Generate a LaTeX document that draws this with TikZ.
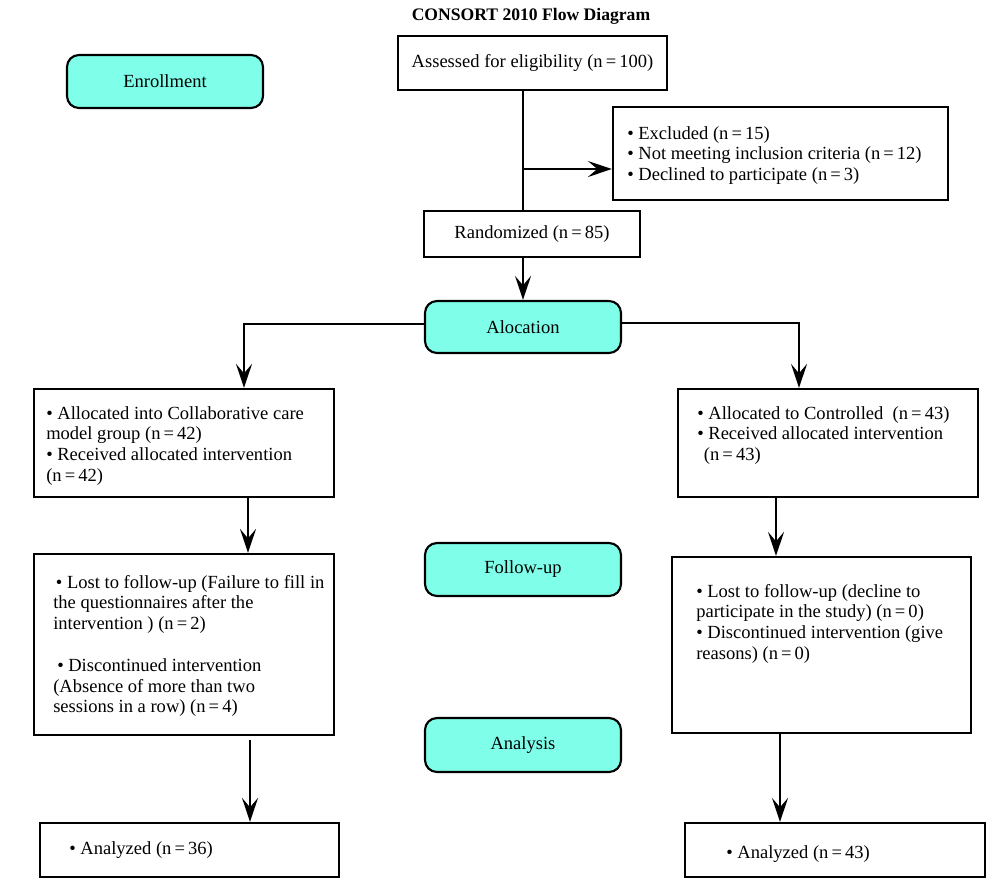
\documentclass[tikz,border=0pt]{standalone}
\usepackage{fontspec}
\setmainfont{Liberation Serif}
\usetikzlibrary{fit,arrows.meta}
\definecolor{stagecyan}{RGB}{127,255,234}
\tikzset{
  box/.style={draw, line width=1.6pt, inner sep=0pt, fill=white},
  stage/.style={draw, line width=1.6pt, inner sep=0pt, rounded corners=9pt, fill=stagecyan},
  txt/.style={anchor=north west, inner sep=0pt, align=left},
  conn/.style={line width=1.5pt},
  arr/.style={line width=1.5pt, -{Stealth[length=18pt,width=12pt,inset=7pt]}},
}
\begin{document}
\begin{tikzpicture}[x=0.75pt,y=-0.75pt, font=\fontsize{13.9}{15.5}\selectfont]
\useasboundingbox (0,0) rectangle (1000,883);
% title
\node[anchor=base, inner sep=0pt, font=\fontsize{13.2}{15}\selectfont\bfseries] (title) at (531,20) {CONSORT 2010 Flow Diagram};
% stages
\node[stage, fit={(67,55) (263,108)}] (enroll) {};
\node at (enroll.center) (enrollt) {Enrollment};
\node[stage, fit={(425,301) (621,353)}] (alloc) {};
\node at (alloc.center) (alloct) {Alocation};
\node[stage, fit={(425,543) (621,596)}] (follow) {};
\node at (follow.center) (followt) {Follow-up};
\node[stage, fit={(425,718) (621,772)}] (analysis) {};
\node at (analysis.center) (analysist) {Analysis};
% boxes
\node[box, fit={(398,36) (667,90)}] (assess) {};
\node at (assess.center) (assesst) {Assessed for eligibility (n\,=\,100)};
\node[box, fit={(613,107) (948,200)}] (excl) {};
\node[box, fit={(424,211) (640,257)}] (rand) {};
\node at (rand.center) (randt) {Randomized (n\,=\,85)};
\node[box, fit={(34,389) (334,497)}] (lalloc) {};
\node[box, fit={(678,389) (978,497)}] (ralloc) {};
\node[box, fit={(34,554) (334,735)}] (lfollow) {};
\node[box, fit={(672,557) (971,733)}] (rfollow) {};
\node[box, fit={(40,823) (339,877)}] (lanal) {};
\node[box, fit={(685,823) (985,877)}] (ranal) {};
% texts
\node[txt] (exclt) at (627,126) {\textbullet\ Excluded (n\,=\,15)\\ \textbullet\ Not meeting inclusion criteria (n\,=\,12)\\ \textbullet\ Declined to participate (n\,=\,3)};
\node[txt] (lallt) at (46,406) {\textbullet\ Allocated into Collaborative care\\ model group (n\,=\,42)\\ \textbullet\ Received allocated intervention\\ (n\,=\,42)};
\node[txt] (rallt) at (697,406) {\textbullet\ Allocated to Controlled\ \ (n\,=\,43)\\ \textbullet\ Received allocated intervention\\ \hspace{5pt}(n\,=\,43)};
\node[txt] (lfolt) at (53,575) {\hspace{2pt}\textbullet\ Lost to follow-up (Failure to fill in\\ the questionnaires after the\\ intervention ) (n\,=\,2)\\[16pt] \hspace{3pt}\textbullet\ Discontinued intervention\\ (Absence of more than two\\ sessions in a row) (n\,=\,4)};
\node[txt] (rfolt) at (696,584) {\textbullet\ Lost to follow-up (decline to\\ participate in the study) (n\,=\,0)\\ \textbullet\ Discontinued intervention (give\\ reasons) (n\,=\,0)};
\node[txt] (lant) at (69,841) {\textbullet\ Analyzed (n\,=\,36)};
\node[txt] (rant) at (726,845) {\textbullet\ Analyzed (n\,=\,43)};
% connectors
\coordinate (br) at (523,169);
\draw[conn] (assess.south -| br) -- (rand.north -| br);
\draw[arr] (br) -- (excl.west |- br);
\draw[arr] (rand.south -| br) -- (alloc.north -| br);
\coordinate (lc) at (244,324);
\coordinate (rc) at (799,323);
\draw[arr] (alloc.west |- lc) -- (lc) -- (lalloc.north -| lc);
\draw[arr] (alloc.east |- rc) -- (rc) -- (ralloc.north -| rc);
\coordinate (l2) at (248,500);
\coordinate (r2) at (776,500);
\draw[arr] (lalloc.south -| l2) -- (lfollow.north -| l2);
\draw[arr] (ralloc.south -| r2) -- (rfollow.north -| r2);
\coordinate (l3) at (250,740);
\coordinate (r3) at (780,740);
\draw[arr] (l3) -- (lanal.north -| l3);
\draw[arr] (rfollow.south -| r3) -- (ranal.north -| r3);
\end{tikzpicture}
\end{document}
